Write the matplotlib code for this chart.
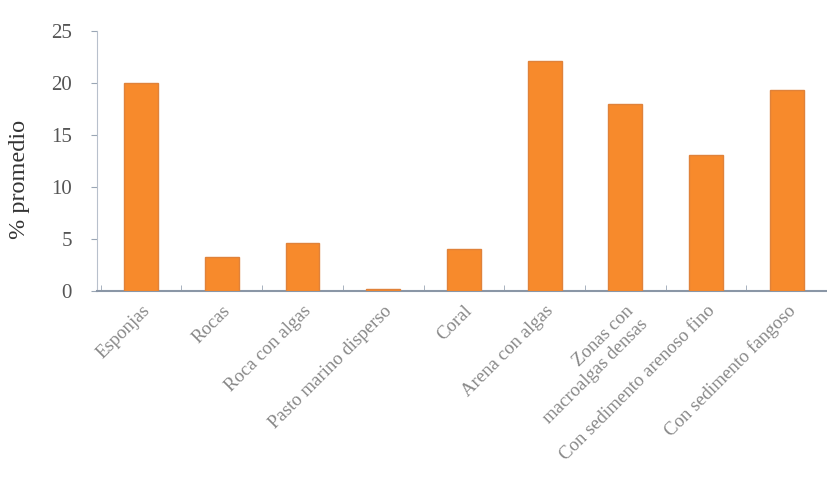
import matplotlib
matplotlib.use("Agg")
import matplotlib.pyplot as plt
import numpy as np

categories = ["Esponjas", "Rocas", "Roca con algas", "Pasto marino disperso", "Coral",
              "Arena con algas", "Zonas con\nmacroalgas densas", "Con sedimento arenoso fino",
              "Con sedimento fangoso"]
values = [20.0, 3.3, 4.6, 0.2, 4.1, 22.1, 18.0, 13.1, 19.3]
yticks = [0, 5, 10, 15, 20, 25]

plt.rcParams['font.family'] = ['Liberation Serif', 'DejaVu Serif']
fig = plt.figure(figsize=(8.27, 4.79), dpi=100)
ax = fig.add_axes([0.117, 0.392, 0.883, 0.543])
x = np.arange(len(categories))
ax.bar(x, values, width=0.42, color='#F78A2C', edgecolor='#E0823A', linewidth=1.0, zorder=3)
ax.set_xlim(-0.55, len(categories) - 0.57)
ax.set_ylim(0, 25)
ax.set_yticks(yticks)
ax.set_yticklabels([str(t) for t in yticks], color='#555555', fontsize=15)
ax.set_ylabel('% promedio', fontsize=17.5, color='#333333')
ax.yaxis.set_label_coords(-0.092, 0.43)
ax.set_xticks(x)
ax.set_xticklabels(categories, rotation=45, ha='right', rotation_mode='anchor',
                   fontsize=13.5, color='#888888')
ax.set_xticks(np.arange(-0.5, len(categories)), minor=True)
ax.tick_params(axis='x', which='major', length=0, pad=8)
ax.tick_params(axis='x', which='minor', length=4, color='#9aa6b5', direction='in')
ax.tick_params(axis='y', length=4, color='#9aa6b5', direction='out', pad=14)
for s in ['top', 'right']:
    ax.spines[s].set_visible(False)
ax.spines['left'].set_color('#b8c0cc')
ax.spines['bottom'].set_color('#8a96a6')
ax.spines['bottom'].set_linewidth(1.5)
fig.savefig('out.png', dpi=100)
